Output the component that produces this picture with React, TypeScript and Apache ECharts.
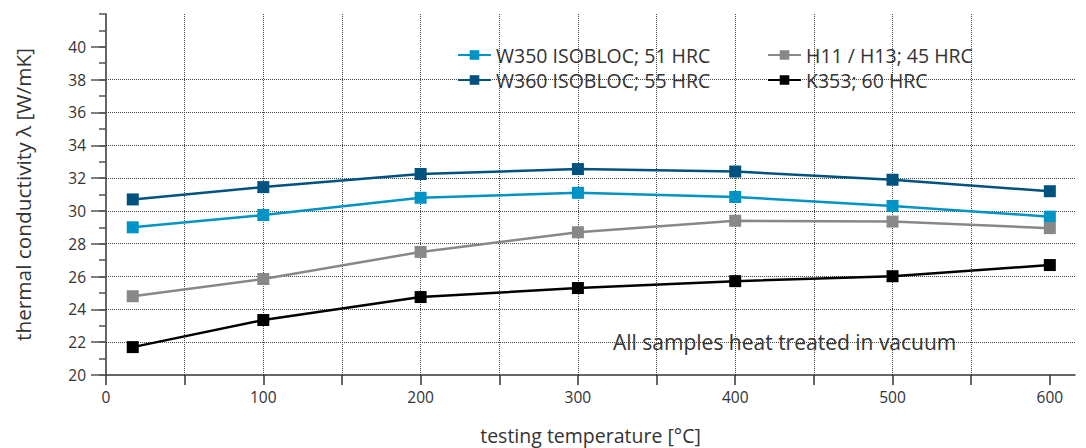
import React, { useEffect, useRef } from "react";
import * as echarts from "echarts";

const temps = [17, 100, 200, 300, 400, 500, 600];
const w350 = [29.0, 29.75, 30.8, 31.1, 30.85, 30.3, 29.65];
const w360 = [30.7, 31.45, 32.25, 32.55, 32.4, 31.9, 31.2];
const h11 = [24.8, 25.85, 27.5, 28.7, 29.4, 29.35, 28.95];
const k353 = [21.7, 23.35, 24.75, 25.3, 25.72, 26.02, 26.7];

const seriesNames = ["W350 ISOBLOC; 51 HRC", "W360 ISOBLOC; 55 HRC", "H11 / H13; 45 HRC", "K353; 60 HRC"];
const seriesColors = ["#0093c5", "#00527f", "#888888", "#000000"];
const seriesValues = [w350, w360, h11, k353];

const xLabels = [0, 100, 200, 300, 400, 500, 600];
const xTicks = [0, 50, 100, 150, 200, 250, 300, 350, 400, 450, 500, 550, 600];
const yLabels = [20, 22, 24, 26, 28, 30, 32, 34, 36, 38, 40];

const FONT = "Open Sans";

export default function App() {
  const ref = useRef<HTMLDivElement>(null);
  useEffect(() => {
    const chart = echarts.init(ref.current!, null, { renderer: "svg" });
    const legendCommon = {
      orient: "vertical" as const,
      itemWidth: 33,
      itemHeight: 12,
      itemGap: 1,
      textStyle: { fontSize: 19.5, lineHeight: 24, color: "#333", fontFamily: FONT, padding: [0, 0, 0, 0] },
    };
    chart.setOption({
      animation: false,
      backgroundColor: "#fff",
      textStyle: { fontFamily: FONT },
      grid: { left: 106, top: 14, right: 11, bottom: 73, containLabel: false, outerBoundsMode: "none" },
      legend: [
        { ...legendCommon, left: 452, top: 38, data: [seriesNames[0], seriesNames[1]] },
        { ...legendCommon, left: 762, top: 38, data: [seriesNames[2], seriesNames[3]] },
      ],
      xAxis: {
        type: "value",
        min: 0,
        max: 616,
        interval: 100,
        name: "testing temperature [°C]",
        nameLocation: "middle",
        nameGap: 50,
        nameTextStyle: { fontSize: 19.5, color: "#333", fontFamily: FONT },
        axisLine: { show: true, lineStyle: { color: "#333", width: 1.5 } },
        axisTick: { show: true, length: 10, customValues: xTicks, lineStyle: { color: "#333", width: 1.5 } },
        axisLabel: { customValues: xLabels, fontSize: 15.5, color: "#333", margin: 14, fontFamily: FONT },
        splitLine: {
          show: true,
          showMinLine: false,
          showMaxLine: false,
          lineStyle: { type: "dotted", color: "#444", width: 1 },
        },
      },
      yAxis: [
        {
          type: "value",
          position: "left",
          min: 20,
          max: 42,
          interval: 2,
          name: "thermal conductivity λ [W/mK]",
          nameLocation: "middle",
          nameGap: 73,
          nameTextStyle: { fontSize: 20.8, color: "#333", fontFamily: FONT },
          axisLine: { show: true, lineStyle: { color: "#333", width: 1.5 } },
          axisTick: { show: true, length: 15, customValues: yLabels, lineStyle: { color: "#555", width: 1.5 } },
          axisLabel: { customValues: yLabels, fontSize: 15.5, color: "#333", margin: 20, fontFamily: FONT },
          splitLine: {
            show: true,
            showMinLine: false,
            showMaxLine: false,
            lineStyle: { type: "dotted", color: "#444", width: 1 },
          },
        },
        {
          type: "value",
          position: "left",
          offset: 0,
          min: 20,
          max: 42,
          interval: 1,
          axisLine: { show: false },
          axisTick: { show: true, length: 7, lineStyle: { color: "#555", width: 1.5 } },
          axisLabel: { show: false },
          splitLine: { show: false },
        },
      ],
      graphic: [
        {
          type: "text",
          left: 613,
          top: 331,
          style: { text: "All samples heat treated in vacuum", fontSize: 21, fill: "#333", fontFamily: FONT },
        },
      ],
      series: seriesNames.map((name, i) => ({
        name,
        type: "line",
        yAxisIndex: 0,
        data: temps.map((t, j) => [t, seriesValues[i][j]]),
        symbol: "rect",
        symbolSize: 12,
        lineStyle: { color: seriesColors[i], width: 2.5 },
        itemStyle: { color: seriesColors[i] },
        z: 3 + i,
      })),
    });
    return () => chart.dispose();
  }, []);
  return (
    <div
      ref={ref}
      style={{ position: "fixed", left: 0, top: 0, width: 1086, height: 448 }}
    />
  );
}
